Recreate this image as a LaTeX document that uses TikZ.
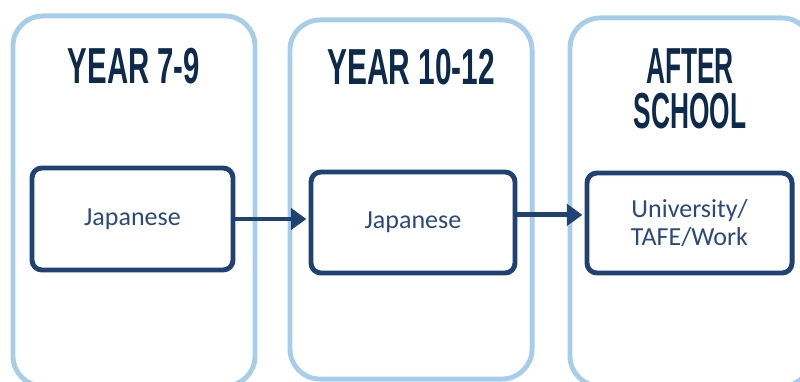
\documentclass[tikz,border=0pt]{standalone}
\usepackage{fontspec}
\setmainfont{Carlito}
\newfontfamily\headfont{Liberation Sans}
\usetikzlibrary{arrows.meta, positioning, shapes}
\definecolor{colblue}{HTML}{A6CEE9}
\definecolor{boxnavy}{HTML}{1F4272}
\definecolor{headnavy}{HTML}{0E2A4A}
\definecolor{txtnavy}{HTML}{2B4A7A}
\newcommand{\headtxt}[2]{\scalebox{#1}[1]{#2}}
\tikzstyle{col_style} = [rectangle, rounded corners=0.75cm, draw=colblue, line width=3.5pt, minimum width=6.05cm]
\tikzstyle{box_style} = [rectangle, rounded corners=0.25cm, draw=boxnavy, line width=3.5pt, fill=white, align=center, text=txtnavy, font=\fontsize{18.5}{20}\selectfont]
\tikzstyle{head_style} = [anchor=base, align=center, text=headnavy, inner sep=0pt, font=\headfont\bfseries\fontsize{36}{32}\selectfont]
\tikzstyle{arrow_style} = [draw=boxnavy, line width=3.5pt, -{Triangle[length=11pt, width=15pt]}, shorten >=1.5pt]

\begin{document}
\begin{tikzpicture}[x=0.025cm, y=-0.025cm]
	\useasboundingbox (0,0) rectangle (800,381);
	
	% columns
	\node[col_style, minimum height=9.25cm] (col1) at (134,201) {};
	\node[col_style, minimum height=8.975cm] (col2) at (411,199.5) {};
	\node[col_style, minimum height=9.2cm] (col3) at (691,202) {};
	
	% headings
	\node[head_style] (head1) at (134,83) {\headtxt{0.58}{YEAR 7-9}};
	\node[head_style] (head2) at (411,85) {\headtxt{0.59}{YEAR 10-12}};
	\node[head_style] (head3) at (690,128) {\headtxt{0.52}{AFTER}\\\headtxt{0.52}{SCHOOL}}; % base = last line
	
	% boxes
	\node[box_style, minimum width=5.025cm, minimum height=2.55cm] (box1) at (132.5,219) {Japanese};
	\node[box_style, minimum width=5.1cm, minimum height=2.525cm] (box2) at (413,222.5) {Japanese};
	\node[box_style, minimum width=5.125cm, minimum height=2.5cm] (box3) at (689.5,223) {University/\\TAFE/Work};
	
	% arrows
	\draw[arrow_style] (box1.east) -- (box1.east -| box2.west);
	\draw[arrow_style] ([yshift=0.19cm]box2.east) -- ([yshift=0.19cm]box2.east -| box3.west);
	
\end{tikzpicture}
\end{document}
